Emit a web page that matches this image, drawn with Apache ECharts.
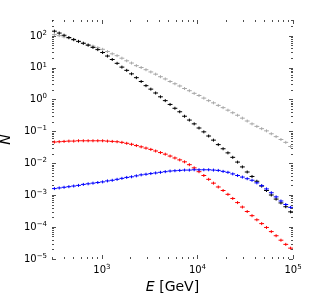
<!DOCTYPE html>
<html>
<head>
<meta charset="utf-8">
<script src="https://cdn.jsdelivr.net/npm/echarts@6/dist/echarts.min.js"></script>
<style>
html,body{margin:0;padding:0;background:#fff;}
#c{width:316px;height:300px;}
</style>
</head>
<body>
<div id="c"></div>
<script>
// Bin edges (GeV), log-spaced bins
var binEdges = [300, 337.0, 378.5, 425.1, 477.5, 536.3, 602.4, 676.6, 760.0, 853.6,
  958.8, 1077, 1210, 1359, 1526, 1714, 1925, 2163, 2429, 2728,
  3064, 3442, 3866, 4342, 4877, 5477, 6152, 6910, 7761, 8717,
  9791, 10997, 12352, 13874, 15583, 17503, 19659, 22081, 24801, 27856,
  31288, 35143, 39472, 44335, 49796, 55931, 62821, 70560, 79252, 89015, 100000];

var grayValues = [110, 102, 93.3, 85.1, 74.1, 66.1, 58.9, 52.5, 47.9, 42.7,
  38.0, 32.4, 27.5, 24.0, 20.0, 16.6, 14.1, 11.7, 10.2, 8.71,
  7.41, 6.31, 5.25, 4.47, 3.72, 3.16, 2.69, 2.24, 1.91, 1.58,
  1.35, 1.12, 0.933, 0.794, 0.661, 0.562, 0.468, 0.389, 0.324, 0.263,
  0.214, 0.174, 0.145, 0.123, 0.105, 0.0851, 0.0692, 0.0562, 0.0457, 0.0339];

var blackValues = [141, 123, 105, 89.1, 77.6, 67.6, 58.9, 51.3, 43.7, 37.2,
  30.2, 23.4, 18.2, 13.8, 10.5, 8.32, 6.46, 4.90, 3.72, 2.75,
  2.14, 1.62, 1.23, 0.933, 0.708, 0.537, 0.417, 0.302, 0.229, 0.174,
  0.129, 0.0977, 0.0724, 0.0537, 0.0389, 0.0288, 0.0214, 0.0155, 0.0110, 0.00776,
  0.00537, 0.00389, 0.00275, 0.00195, 0.00141, 0.00102, 0.000759, 0.000575, 0.000437, 0.000302];

var redValues = [0.0468, 0.0479, 0.0490, 0.0501, 0.0501, 0.0513, 0.0513, 0.0513, 0.0513, 0.0513,
  0.0513, 0.0501, 0.0490, 0.0479, 0.0457, 0.0427, 0.0398, 0.0363, 0.0331, 0.0302,
  0.0275, 0.0245, 0.0219, 0.0195, 0.0170, 0.0148, 0.0129, 0.0112, 0.00912, 0.00724,
  0.00550, 0.00417, 0.00316, 0.00240, 0.00182, 0.00141, 0.00107, 0.000794, 0.000589, 0.000427,
  0.000309, 0.000229, 0.000170, 0.000129, 0.0000977, 0.0000724, 0.0000537, 0.0000389, 0.0000288, 0.0000219];

var blueValues = [0.00162, 0.00170, 0.00178, 0.00186, 0.00195, 0.00204, 0.00219, 0.00229, 0.00240, 0.00251,
  0.00263, 0.00282, 0.00295, 0.00316, 0.00339, 0.00363, 0.00380, 0.00407, 0.00437, 0.00457,
  0.00479, 0.00501, 0.00525, 0.00550, 0.00575, 0.00589, 0.00603, 0.00617, 0.00617, 0.00631,
  0.00631, 0.00631, 0.00631, 0.00617, 0.00603, 0.00562, 0.00525, 0.00468, 0.00417, 0.00372,
  0.00331, 0.00295, 0.00245, 0.00200, 0.00158, 0.00120, 0.000891, 0.000661, 0.000513, 0.000417];

var xTickValues = [1e3, 1e4, 1e5];
var xTickExps = ['3', '4', '5'];
var yTickValues = [1e-5, 1e-4, 1e-3, 1e-2, 1e-1, 1e0, 1e1, 1e2];
var yTickExps = ['\u22125', '\u22124', '\u22123', '\u22122', '\u22121', '0', '1', '2'];
var xRange = [300, 1e5];
var yRange = [1e-5, 316.2];

// minor tick positions (2..9 x 10^n) within ranges
function minorTicks(lo, hi) {
  var out = [];
  for (var e = -6; e <= 6; e++) {
    for (var m = 2; m <= 9; m++) {
      var v = m * Math.pow(10, e);
      if (v >= lo * 0.999 && v <= hi * 1.001) out.push(v);
    }
  }
  return out;
}
var xMinor = minorTicks(xRange[0], xRange[1]);
var yMinor = minorTicks(yRange[0], yRange[1]);

function makeData(vals) {
  var d = [];
  for (var i = 0; i < vals.length; i++) d.push([binEdges[i], binEdges[i + 1], vals[i]]);
  return d;
}

function histSeries(name, vals, color) {
  return {
    name: name, type: 'custom', xAxisIndex: 0, yAxisIndex: 0, clip: true,
    data: makeData(vals),
    encode: { x: [0, 1], y: 2 },
    renderItem: function (params, api) {
      var lo = api.value(0), hi = api.value(1), v = api.value(2);
      var p0 = api.coord([lo, v]), p1 = api.coord([hi, v]);
      var pc = api.coord([Math.sqrt(lo * hi), v]);
      return {
        type: 'group',
        children: [
          { type: 'line', shape: { x1: p0[0], y1: p0[1], x2: p1[0], y2: p1[1] }, style: { stroke: color, lineWidth: 1 } },
          { type: 'line', shape: { x1: pc[0], y1: pc[1] - 1.5, x2: pc[0], y2: pc[1] + 1.5 }, style: { stroke: color, lineWidth: 1 } }
        ]
      };
    }
  };
}

var FONT = 'DejaVu Sans';
var tickColor = '#222';

function labelRich() {
  return {
    b: { fontSize: 10, fontFamily: FONT, color: '#000' },
    s: { fontSize: 7, fontFamily: FONT, color: '#000', padding: [0, 0, 6, 0] }
  };
}

function axisBase(type, pos, range, extra) {
  var a = {
    type: 'log', logBase: 10, position: pos, min: range[0], max: range[1],
    gridIndex: 0,
    axisLine: { show: false },
    splitLine: { show: false },
    axisLabel: { show: false },
    axisTick: { show: false }
  };
  for (var k in extra) a[k] = extra[k];
  return a;
}

var chart = echarts.init(document.getElementById('c'), null, { renderer: 'canvas' });

var option = {
  animation: false,
  backgroundColor: '#fff',
  grid: { left: 52, right: 23, top: 20, bottom: 41, containLabel: false, outerBoundsMode: 'none' },
  xAxis: [
    axisBase('x', 'bottom', xRange, {
      name: '{i|E} [GeV]', nameLocation: 'middle', nameGap: 19,
      nameTextStyle: { fontSize: 14, fontFamily: FONT, color: '#000',
        rich: { i: { fontSize: 14, fontFamily: FONT, fontStyle: 'italic', color: '#000' } } },
      axisTick: { show: true, inside: true, length: 4, customValues: xTickValues, lineStyle: { color: tickColor, width: 0.8 } },
      axisLabel: { show: true, customValues: xTickValues, margin: 5, rich: labelRich(),
        formatter: function (v) { var i = xTickValues.findIndex(function (t) { return Math.abs(t - v) / t < 1e-6; }); return '{b|10}{s|' + xTickExps[i] + '}'; } }
    }),
    axisBase('x', 'bottom', xRange, {
      axisTick: { show: true, inside: true, length: 2, customValues: xMinor, lineStyle: { color: tickColor, width: 0.8 } }
    }),
    axisBase('x', 'top', xRange, {
      axisTick: { show: true, inside: true, length: 4, customValues: xTickValues, lineStyle: { color: tickColor, width: 0.8 } }
    }),
    axisBase('x', 'top', xRange, {
      axisTick: { show: true, inside: true, length: 2, customValues: xMinor, lineStyle: { color: tickColor, width: 0.8 } }
    })
  ],
  yAxis: [
    axisBase('y', 'left', yRange, {
      name: 'N', nameLocation: 'middle', nameGap: 29,
      nameTextStyle: { fontSize: 14, fontFamily: FONT, fontStyle: 'italic', color: '#000' },
      axisTick: { show: true, inside: true, length: 4, customValues: yTickValues, lineStyle: { color: tickColor, width: 0.8 } },
      axisLabel: { show: true, customValues: yTickValues, margin: 5, rich: labelRich(),
        formatter: function (v) { var i = yTickValues.findIndex(function (t) { return Math.abs(t - v) / t < 1e-6; }); return '{b|10}{s|' + yTickExps[i] + '}'; } }
    }),
    axisBase('y', 'left', yRange, {
      axisTick: { show: true, inside: true, length: 2, customValues: yMinor, lineStyle: { color: tickColor, width: 0.8 } }
    }),
    axisBase('y', 'right', yRange, {
      axisTick: { show: true, inside: true, length: 4, customValues: yTickValues, lineStyle: { color: tickColor, width: 0.8 } }
    }),
    axisBase('y', 'right', yRange, {
      axisTick: { show: true, inside: true, length: 2, customValues: yMinor, lineStyle: { color: tickColor, width: 0.8 } }
    })
  ],
  series: [
    histSeries('gray', grayValues, '#a8a8a8'),
    histSeries('black', blackValues, '#000000'),
    histSeries('red', redValues, '#ff0000'),
    histSeries('blue', blueValues, '#0000ff')
  ]
};
chart.setOption(option);
</script>
</body>
</html>
